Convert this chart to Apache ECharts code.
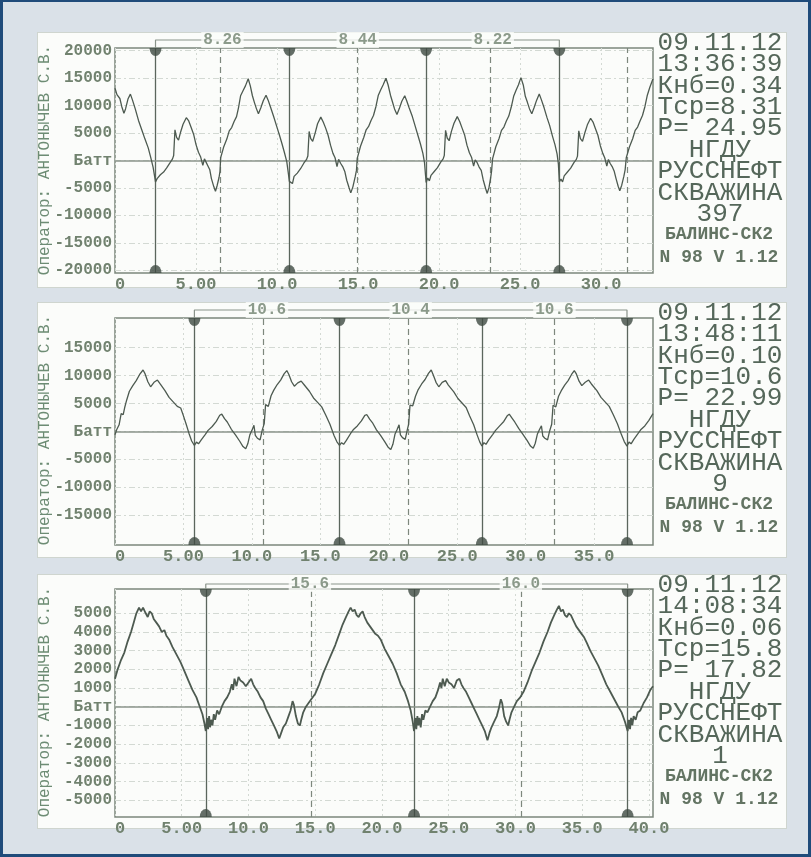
<!DOCTYPE html>
<html>
<head>
<meta charset="utf-8">
<title>Ваттметрограммы</title>
<script src="https://cdn.jsdelivr.net/npm/echarts@6/dist/echarts.min.js"></script>
<style>
body{margin:0;background:#dae1e8;}
#frame{position:absolute;left:0;top:0;width:811px;height:857px;box-sizing:border-box;border:3px solid #1f4b7a;border-top-width:2px;}
.panel{position:absolute;left:37px;width:750px;background:#fbfcfa;border:1px solid #cfd5cf;box-sizing:border-box;}
#main{position:absolute;left:0;top:0;width:811px;height:857px;}
</style>
</head>
<body>
<div id="frame"></div>
<div class="panel" style="top:32px;height:256px"></div>
<div class="panel" style="top:302px;height:256px"></div>
<div class="panel" style="top:574px;height:255px"></div>
<div id="main"></div>
<script>
var dom = document.getElementById('main');
var myChart = echarts.init(dom);

// ---- 1: скважина 397 ----
var wave1 = [
    [0,13200],[0.12,12000],[0.3,11300],[0.42,9800],[0.55,8600],[0.65,9400],[0.8,11200],[0.95,12100],[1.08,11000],[1.25,9400],
    [1.45,7300],[1.65,5600],[1.85,3900],[2.05,2300],[2.2,600],[2.35,-1200],[2.45,-3000],[2.5,-3900],
    [2.6,-3300],[2.68,-3600],[2.8,-2600],[3.0,-2100],[3.2,-1300],[3.4,-400],[3.55,300],[3.62,900],[3.7,5600],[3.8,4200],
    [3.92,3700],[4.05,5200],[4.2,6600],[4.4,7800],[4.55,7200],[4.7,6000],[4.85,4800],[5.0,2900],[5.15,1500],[5.28,700],
    [5.42,-900],[5.52,300],[5.62,-300],[5.72,-900],[5.85,-1700],[5.95,-3300],[6.1,-4800],[6.2,-5600],[6.3,-4600],[6.42,-3100],
    [6.48,-2000],[6.52,500],[6.7,2400],[6.9,3900],[7.05,5400],[7.2,6000],[7.35,7100],[7.5,8000],[7.62,9600],[7.75,11800],
    [7.9,12700],[8.05,13600],[8.22,14900],[8.35,13600],[8.48,11800],[8.6,10600],[8.72,9500],[8.85,8500],[9.0,9600],[9.15,10900],
    [9.32,11900],[9.45,11000],[9.6,9700],[9.78,8100],[9.95,6500],[10.15,4600],[10.3,3100],[10.45,1500],[10.6,-200],[10.7,-2400],
    [10.76,-3800],[10.86,-3500],[10.95,-4200],[11.05,-2900],[11.25,-2300],[11.45,-1500],[11.65,-500],[11.82,200],[11.9,800],[11.98,5300],
    [12.08,4000],[12.2,3500],[12.35,5000],[12.5,6700],[12.7,7900],[12.85,7000],[13.0,5900],[13.15,4600],[13.3,2800],[13.45,1300],
    [13.58,500],[13.7,-1100],[13.8,200],[13.92,-500],[14.05,-1100],[14.18,-2000],[14.3,-3600],[14.45,-5000],[14.55,-5900],[14.68,-4800],
    [14.82,-3000],[14.9,-1800],[14.95,400],[15.15,2600],[15.35,4200],[15.5,5600],[15.65,6200],[15.8,7300],[15.95,8200],[16.1,9800],
    [16.25,11900],[16.4,12900],[16.55,13800],[16.72,15000],[16.85,13800],[17.0,11900],[17.12,10700],[17.25,9400],[17.4,8400],[17.55,9500],
    [17.7,10800],[17.88,11800],[18.0,10900],[18.15,9600],[18.35,8000],[18.52,6300],[18.7,4500],[18.85,3000],[19.0,1300],[19.1,-400],
    [19.16,-2600],[19.2,-4000],[19.3,-3200],[19.4,-3700],[19.5,-2700],[19.7,-2000],[19.9,-1300],[20.1,-300],[20.25,300],[20.32,900],
    [20.4,5500],[20.5,4100],[20.62,3600],[20.76,5300],[20.92,6800],[21.12,8000],[21.27,7100],[21.42,5900],[21.57,4700],[21.72,2800],
    [21.87,1400],[22.0,600],[22.13,-1000],[22.23,100],[22.35,-400],[22.47,-1200],[22.6,-1800],[22.72,-3500],[22.87,-5100],[22.97,-6000],
    [23.08,-4900],[23.18,-3200],[23.24,-1900],[23.3,300],[23.5,2500],[23.7,4000],[23.85,5500],[24.0,6100],[24.15,7200],[24.3,8100],
    [24.45,9700],[24.6,11700],[24.75,12800],[24.9,13800],[25.05,15100],[25.2,13700],[25.32,11700],[25.45,10600],[25.58,9400],[25.72,8500],
    [25.87,9700],[26.02,11000],[26.18,12100],[26.32,11000],[26.48,9600],[26.65,7900],[26.82,6400],[27.0,4400],[27.15,2900],[27.28,1200],
    [27.36,-600],[27.4,-2700],[27.42,-3900],[27.52,-3400],[27.62,-3900],[27.72,-2800],[27.92,-2100],[28.12,-1400],[28.32,-400],[28.47,200],
    [28.54,800],[28.62,5400],[28.72,4000],[28.85,3500],[29.0,5100],[29.15,6500],[29.35,7700],[29.5,7000],[29.65,5800],[29.8,4600],
    [29.95,2700],[30.1,1300],[30.22,500],[30.35,-1000],[30.45,200],[30.55,-500],[30.68,-1100],[30.8,-1900],[30.92,-3300],[31.05,-4700],
    [31.15,-5500],[31.27,-4500],[31.4,-2900],[31.48,-1700],[31.55,500],[31.75,2500],[31.95,4000],[32.1,5500],[32.25,6100],[32.4,7200],
    [32.55,8200],[32.7,9800],[32.85,11900],[33.0,13300],[33.2,14900]
];
var marks1 = [2.5, 10.76, 19.2, 27.42];
var periods1 = ['8.26', '8.44', '8.22'];
var dashes1 = [6.48, 14.94, 23.15, 31.6];
var yTicks1 = [20000, 15000, 10000, 5000, 0, -5000, -10000, -15000, -20000];
var xTicks1 = [0, 5, 10, 15, 20, 25, 30];
var info1 = ['09.11.12', '13:36:39', 'Кнб=0.34', 'Тср=8.31', 'P= 24.95', 'НГДУ', 'РУССНЕФТ', 'СКВАЖИНА', '397'];

// ---- 2: скважина 9 ----
var wave2 = [
    [0,-600],[0.12,300],[0.3,1200],[0.45,3200],[0.6,3000],[0.7,4200],[0.85,5600],[1.05,7200],[1.3,8200],[1.55,9100],
    [1.8,10200],[2.05,11000],[2.2,10300],[2.4,8900],[2.6,8000],[2.85,8800],[3.1,9200],[3.3,8500],[3.65,7300],[3.95,6100],
    [4.25,5300],[4.55,4500],[4.8,4200],[5.0,2800],[5.2,1300],[5.4,-300],[5.6,-1700],[5.8,-2500],
    [5.95,-1900],[6.1,-2200],[6.3,-1500],[6.6,-500],[6.8,200],[7.1,900],[7.4,1800],[7.65,2900],[7.8,3100],[8.0,2300],
    [8.2,1700],[8.5,400],[8.8,-600],[9.1,-1700],[9.35,-2700],[9.55,-3100],[9.7,-2200],[9.85,-600],[10.0,200],[10.15,1100],
    [10.25,-700],[10.4,-1200],[10.6,-1500],[10.75,200],[10.9,1400],[11.0,4800],[11.2,4500],[11.4,6400],[11.6,7400],[11.85,8400],
    [12.1,9200],[12.35,10300],[12.55,10900],[12.7,10200],[12.9,8900],[13.1,8100],[13.35,8700],[13.6,9000],[13.8,8400],[14.2,7200],
    [14.5,6000],[14.8,5200],[15.1,4400],[15.4,2900],[15.7,1300],[16.0,-700],[16.2,-1800],[16.4,-2500],
    [16.55,-2000],[16.7,-2300],[16.9,-1600],[17.2,-400],[17.4,300],[17.7,1000],[18.0,1900],[18.25,2900],[18.4,3000],[18.6,2200],
    [18.8,1600],[19.1,300],[19.4,-700],[19.7,-1800],[19.95,-2800],[20.15,-3200],[20.3,-2300],[20.45,-500],[20.6,300],[20.75,1200],
    [20.85,-600],[21.0,-1100],[21.2,-1400],[21.35,300],[21.45,1300],[21.55,4700],[21.75,4600],[21.95,6300],[22.15,7500],[22.4,8500],
    [22.65,9300],[22.9,10400],[23.1,11000],[23.25,10100],[23.45,8800],[23.65,8000],[23.9,8800],[24.15,9100],[24.35,8300],[24.75,7100],
    [25.05,5900],[25.35,5100],[25.65,4300],[25.9,2800],[26.2,1200],[26.45,-600],[26.65,-1900],[26.8,-2600],
    [26.95,-2000],[27.1,-2300],[27.3,-1500],[27.6,-500],[27.8,200],[28.1,1000],[28.4,1800],[28.65,2800],[28.8,3100],[29.0,2400],
    [29.2,1700],[29.5,500],[29.8,-500],[30.1,-1600],[30.35,-2600],[30.55,-3000],[30.7,-2100],[30.85,-500],[31.0,300],[31.15,1000],
    [31.25,-800],[31.4,-1200],[31.6,-1500],[31.75,100],[31.9,1300],[32.0,4700],[32.2,4400],[32.4,6300],[32.6,7300],[32.85,8300],
    [33.1,9100],[33.35,10200],[33.55,10900],[33.7,10300],[33.9,9000],[34.1,8200],[34.35,8800],[34.6,9200],[34.8,8500],[35.2,7300],
    [35.5,6100],[35.8,5300],[36.1,4500],[36.4,3000],[36.7,1400],[37.0,-600],[37.2,-1800],[37.4,-2600],
    [37.55,-1900],[37.7,-2200],[37.9,-1400],[38.2,-400],[38.4,300],[38.7,1000],[39.0,2000],[39.3,3200]
];
var marks2 = [5.8, 16.4, 26.8, 37.4];
var periods2 = ['10.6', '10.4', '10.6'];
var dashes2 = [10.85, 21.45, 32.05];
var yTicks2 = [15000, 10000, 5000, 0, -5000, -10000, -15000];
var xTicks2 = [0, 5, 10, 15, 20, 25, 30, 35];
var info2 = ['09.11.12', '13:48:11', 'Кнб=0.10', 'Тср=10.6', 'P= 22.99', 'НГДУ', 'РУССНЕФТ', 'СКВАЖИНА', '9'];

// ---- 3: скважина 1 ----
var wave3 = [
    [0,1500],[0.2,2000],[0.45,2500],[0.7,2900],[0.95,3500],[1.2,4000],[1.4,4500],[1.6,5000],[1.8,5300],[1.95,5100],
    [2.1,5300],[2.3,5000],[2.45,4800],[2.6,5100],[2.75,5000],[2.9,4700],[3.1,4500],[3.3,4300],[3.5,4000],[3.7,4100],
    [3.85,3800],[4.05,3600],[4.3,3200],[4.6,2800],[4.9,2400],[5.2,1900],[5.5,1400],[5.8,900],[6.1,500],[6.35,0],
    [6.55,-400],[6.7,-900],[6.8,-1300],[6.9,-600],[6.97,-1200],[7.05,-500],[7.12,-1100],[7.2,-700],[7.3,-1000],[7.4,-400],
    [7.5,-700],[7.65,-200],[7.8,-400],[8.0,0],[8.2,300],[8.4,500],[8.6,800],[8.75,1200],[8.85,900],[8.95,1500],
    [9.1,1100],[9.25,1600],[9.4,1400],[9.6,1300],[9.8,1100],[10.0,1300],[10.2,1500],[10.35,1200],[10.5,1000],[10.7,800],
    [10.9,500],[11.1,300],[11.3,-100],[11.5,-400],[11.7,-700],[11.9,-1000],[12.1,-1300],[12.3,-1700],[12.45,-1400],[12.6,-1100],
    [12.8,-900],[13.0,-500],[13.15,-200],[13.3,300],[13.4,100],[13.55,-500],[13.7,-900],[13.85,-1000],[13.95,-700],[14.1,-300],
    [14.3,0],[14.5,200],[14.7,400],[15.0,700],[15.3,1200],[15.6,1800],[15.9,2300],[16.2,2800],[16.5,3300],[16.8,3900],
    [17.05,4400],[17.3,4800],[17.5,5100],[17.65,5300],[17.8,5100],[17.95,5200],[18.1,4900],[18.25,4800],[18.4,5000],[18.55,5100],
    [18.7,4800],[18.9,4500],[19.1,4300],[19.3,4100],[19.5,3900],[19.7,3800],[19.9,3600],[20.2,3100],[20.5,2700],[20.8,2300],
    [21.1,1800],[21.4,1200],[21.7,800],[21.95,300],[22.15,-200],[22.3,-800],[22.4,-1300],
    [22.5,-600],[22.57,-1200],[22.65,-500],[22.72,-1000],[22.8,-600],[22.9,-1100],[23.0,-400],[23.1,-700],[23.25,-200],[23.4,-300],
    [23.6,0],[23.8,300],[24.0,500],[24.2,900],[24.35,1300],[24.45,1000],[24.55,1500],[24.7,1100],[24.85,1500],[25.0,1300],
    [25.2,1200],[25.4,1000],[25.6,1400],[25.8,1500],[25.95,1200],[26.1,1000],[26.3,800],[26.5,500],[26.7,200],[26.9,-100],
    [27.1,-400],[27.3,-700],[27.5,-1000],[27.7,-1300],[27.9,-1800],[28.05,-1400],[28.2,-1100],[28.4,-800],[28.6,-500],[28.75,-100],
    [28.9,400],[29.0,200],[29.15,-500],[29.3,-800],[29.45,-1000],[29.55,-700],[29.7,-300],[29.9,0],[30.1,300],[30.35,500],
    [30.6,800],[30.9,1300],[31.2,1900],[31.5,2400],[31.8,2900],[32.1,3500],[32.4,4000],[32.65,4500],[32.9,4900],[33.1,5200],
    [33.25,5400],[33.4,5100],[33.55,5200],[33.7,4900],[33.85,4800],[34.0,5000],[34.15,4900],[34.35,4600],[34.55,4300],[34.75,4100],
    [34.95,3900],[35.15,3700],[35.35,3400],[35.6,3000],[35.9,2600],[36.2,2200],[36.5,1700],[36.8,1200],[37.1,800],[37.4,400],
    [37.7,0],[37.95,-300],[38.2,-800],[38.4,-1300],[38.5,-700],[38.58,-1200],[38.66,-600],[38.75,-1000],[38.85,-500],[39.0,-700],
    [39.15,-300],[39.35,-200],[39.6,200],[39.85,500],[40.1,900],[40.3,1100]
];
var marks3 = [6.8, 22.4, 38.4];
var periods3 = ['15.6', '16.0'];
var dashes3 = [14.7, 30.4];
var yTicks3 = [5000, 4000, 3000, 2000, 1000, 0, -1000, -2000, -3000, -4000, -5000];
var xTicks3 = [0, 5, 10, 15, 20, 25, 30, 35, 40];
var info3 = ['09.11.12', '14:08:34', 'Кнб=0.06', 'Тср=15.8', 'P= 17.82', 'НГДУ', 'РУССНЕФТ', 'СКВАЖИНА', '1'];

var device = ['БАЛИНС-СК2', 'N 98 V 1.12'];
var operator = 'Оператор: АНТОНЫЧЕВ С.В.';

// расположение панелей
var panels = [
    {wave: wave1, marks: marks1, periods: periods1, dashes: dashes1, yTicks: yTicks1, xTicks: xTicks1, info: info1,
     boxTop: 32, top: 48, height: 225, min: -20500, max: 20500, xMax: 33.2, lift: 8, lw: 1.3},
    {wave: wave2, marks: marks2, periods: periods2, dashes: dashes2, yTicks: yTicks2, xTicks: xTicks2, info: info2,
     boxTop: 302, top: 318, height: 227, min: -20300, max: 20300, xMax: 39.3, lift: 8, lw: 1.3},
    {wave: wave3, marks: marks3, periods: periods3, dashes: dashes3, yTicks: yTicks3, xTicks: xTicks3, info: info3,
     boxTop: 574, top: 589, height: 228, min: -5900, max: 6300, xMax: 40.3, lift: 5, lw: 1.8}
];

var ink = '#4d5a50';
var labelColor = '#71826f';
var mono = '"Liberation Mono", "DejaVu Sans Mono", monospace';

var grids = [], xAxes = [], yAxes = [], series = [], graphics = [];

panels.forEach(function (p, i) {
    grids.push({
        left: 115, width: 538, top: p.top, height: p.height,
        show: true, borderColor: '#7c867c', borderWidth: 1.5, backgroundColor: 'transparent',
        outerBoundsMode: 'none'
    });
    xAxes.push({
        type: 'value', gridIndex: i, min: 0, max: p.xMax,
        axisLine: {show: false},
        axisTick: {show: false, customValues: p.xTicks},
        splitLine: {show: true, lineStyle: {color: '#d3d9d3', type: [2, 3], width: 1}},
        axisLabel: {
            customValues: p.xTicks, margin: 3, alignMinLabel: 'left',
            color: labelColor, fontFamily: mono, fontSize: 17, fontWeight: 'bold',
            formatter: function (v) { return v === 0 ? '0' : (v === 5 ? '5.00' : v.toFixed(1)); }
        }
    });
    yAxes.push({
        type: 'value', gridIndex: i, min: p.min, max: p.max,
        axisLine: {show: false},
        axisTick: {show: false, customValues: p.yTicks},
        splitLine: {show: true, lineStyle: {color: '#d3d9d3', type: [6, 3, 2, 3], width: 1}},
        axisLabel: {
            customValues: p.yTicks, margin: 3,
            color: labelColor, fontFamily: mono, fontSize: 16, fontWeight: 'bold',
            formatter: function (v) { return v === 0 ? 'Батт' : String(v); }
        }
    });

    var markLines = [];
    p.marks.forEach(function (m) {
        markLines.push({xAxis: m, lineStyle: {color: '#5b665d', width: 1.3, type: 'solid'}});
    });
    p.dashes.forEach(function (d) {
        markLines.push({xAxis: d, lineStyle: {color: '#7d877d', width: 1.2, type: [6, 4]}});
    });
    markLines.push({yAxis: 0, lineStyle: {color: '#8b958b', width: 1.6, type: 'solid'}});

    // сама ваттметрограмма
    series.push({
        type: 'line', xAxisIndex: i, yAxisIndex: i, data: p.wave,
        symbol: 'none', animation: false, z: 5,
        lineStyle: {color: ink, width: p.lw},
        markLine: {silent: true, symbol: ['none', 'none'], label: {show: false}, animation: false, data: markLines}
    });

    // метки периодов сверху и снизу
    series.push({
        type: 'scatter', xAxisIndex: i, yAxisIndex: i, clip: false, animation: false, z: 6,
        symbol: 'path://M0,0A5,5,0,0,0,10,0Z', symbolSize: [12, 8], symbolOffset: [0, 4],
        itemStyle: {color: '#3f4a42'},
        data: p.marks.map(function (m) { return [m, p.max]; })
    });
    series.push({
        type: 'scatter', xAxisIndex: i, yAxisIndex: i, clip: false, animation: false, z: 6,
        symbol: 'path://M0,5A5,5,0,0,1,10,5Z', symbolSize: [12, 8], symbolOffset: [0, -4],
        itemStyle: {color: '#3f4a42'},
        data: p.marks.map(function (m) { return [m, p.min]; })
    });

    // линия с длительностями периодов над графиком
    var topY = p.max + p.lift * (p.max - p.min) / p.height;
    var first = p.marks[0], last = p.marks[p.marks.length - 1];
    series.push({
        type: 'line', xAxisIndex: i, yAxisIndex: i, clip: false, animation: false, symbol: 'none', z: 4,
        lineStyle: {color: '#8a938a', width: 1.2},
        data: [[first, p.max], [first, topY], [last, topY], [last, p.max]]
    });
    series.push({
        type: 'scatter', xAxisIndex: i, yAxisIndex: i, clip: false, animation: false, symbolSize: 0, z: 7,
        label: {
            show: true, position: 'inside', color: labelColor, fontFamily: mono, fontSize: 16, fontWeight: 'bold',
            backgroundColor: '#fbfcfa', padding: [0, 2],
            formatter: function (d) { return d.data.text; }
        },
        data: p.periods.map(function (t, k) {
            return {value: [(p.marks[k] + p.marks[k + 1]) / 2, topY], text: t};
        })
    });

    // текстовый блок справа
    p.info.forEach(function (t, k) {
        graphics.push({
            type: 'text', x: 720, y: p.boxTop + 11 + 21.4 * k,
            style: {text: t, font: '26px ' + mono, fill: '#55675a', align: 'center', verticalAlign: 'middle'}
        });
    });
    device.forEach(function (t, k) {
        graphics.push({
            type: 'text', x: 719, y: p.boxTop + 202 + 23 * k,
            style: {text: t, font: 'bold 18px ' + mono, fill: '#637463', align: 'center', verticalAlign: 'middle'}
        });
    });
    graphics.push({
        type: 'text', x: 45, y: p.boxTop + 128, rotation: Math.PI / 2,
        style: {text: operator, font: '16px ' + mono, fill: '#6d8c74', align: 'center', verticalAlign: 'middle'}
    });
});

option = {
    animation: false,
    grid: grids,
    xAxis: xAxes,
    yAxis: yAxes,
    series: series,
    graphic: graphics
};
myChart.setOption(option);
</script>
</body>
</html>
